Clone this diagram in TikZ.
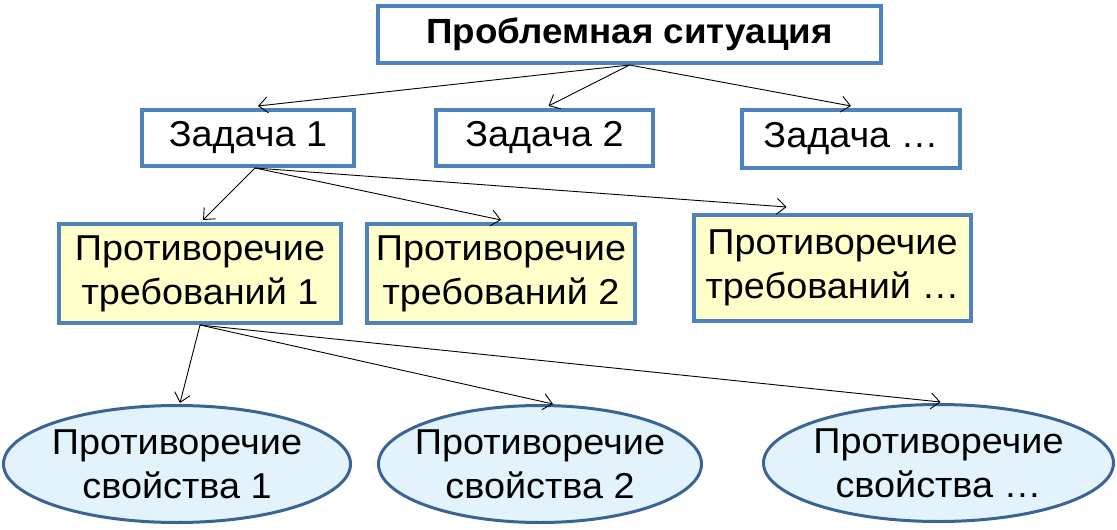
\documentclass[tikz,border=0pt]{standalone}
\usepackage{fontspec}
\setmainfont[FakeStretch=1.05]{Liberation Sans}
\usetikzlibrary{shapes.geometric,arrows.meta}
\definecolor{boxblue}{HTML}{4F81BD}
\definecolor{ellblue}{HTML}{3B6495}
\definecolor{ellfill}{HTML}{E2F3FB}
\definecolor{yelfill}{HTML}{FFFFC9}
\tikzset{
  txt/.style={font=\fontsize{36}{44}\selectfont, align=center, inner sep=0pt},
  box/.style={txt, draw=boxblue, line width=4pt, rectangle},
  taskbox/.style={box, fill=white},
  reqbox/.style={box, fill=yelfill},
  propell/.style={txt, ellipse, inner sep=-30pt, draw=ellblue, line width=3pt, fill=ellfill},
  arr/.style={-{Straight Barb[length=9pt,width=16pt]}, line width=0.9pt, black}
}
\begin{document}
\begin{tikzpicture}[x=1pt,y=-1pt]
\useasboundingbox (0,0) rectangle (1117,530);
% top
\node[box, minimum width=503pt, minimum height=57pt, font=\bfseries\fontsize{35}{40}\selectfont] (top) at (629.5,34.5) {Проблемная ситуация};
% tasks
\node[taskbox, minimum width=212pt, minimum height=56pt] (z1) at (248,138) {Задача 1};
\node[taskbox, minimum width=217pt, minimum height=56pt] (z2) at (544.5,138) {Задача 2};
\node[taskbox, minimum width=218pt, minimum height=58pt] (z3) at (851,139) {Задача …};
% requirement contradictions
\node[reqbox, minimum width=282pt, minimum height=99pt] (p1) at (200,273.5) {Противоречие\\требований 1};
\node[reqbox, minimum width=268pt, minimum height=99pt] (p2) at (501,273.5) {Противоречие\\требований 2};
\node[reqbox, minimum width=277pt, minimum height=106pt] (p3) at (832.5,268) {Противоречие\\требований …};
% property contradictions
\node[propell, minimum width=347pt, minimum height=117pt] (e1) at (177,464) {Противоречие\\свойства 1};
\node[propell, minimum width=323pt, minimum height=117pt] (e2) at (540,464) {Противоречие\\свойства 2};
\node[propell, minimum width=350pt, minimum height=117pt] (e3) at (938.5,463) {Противоречие\\свойства …};
% arrows
\draw[arr] (top.south) -- ([xshift=10pt,yshift=2pt]z1.north);
\draw[arr] (top.south) -- ([xshift=4pt,yshift=2pt]z2.north);
\draw[arr] (top.south) -- ([yshift=2pt]z3.north);
\draw[arr] ([xshift=7pt]z1.south) -- ([xshift=3pt,yshift=2pt]p1.north);
\draw[arr] ([xshift=7pt]z1.south) -- ([yshift=2pt]p2.north);
\draw[arr] ([xshift=7pt]z1.south) -- ([xshift=-46pt,yshift=6pt]p3.north);
\draw[arr] (p1.south) -- ([xshift=3pt,yshift=1pt]e1.north);
\draw[arr] (p1.south) -- ([xshift=13pt]e2.north);
\draw[arr] (p1.south) -- ([xshift=2pt,yshift=1pt]e3.north);
\end{tikzpicture}
\end{document}
